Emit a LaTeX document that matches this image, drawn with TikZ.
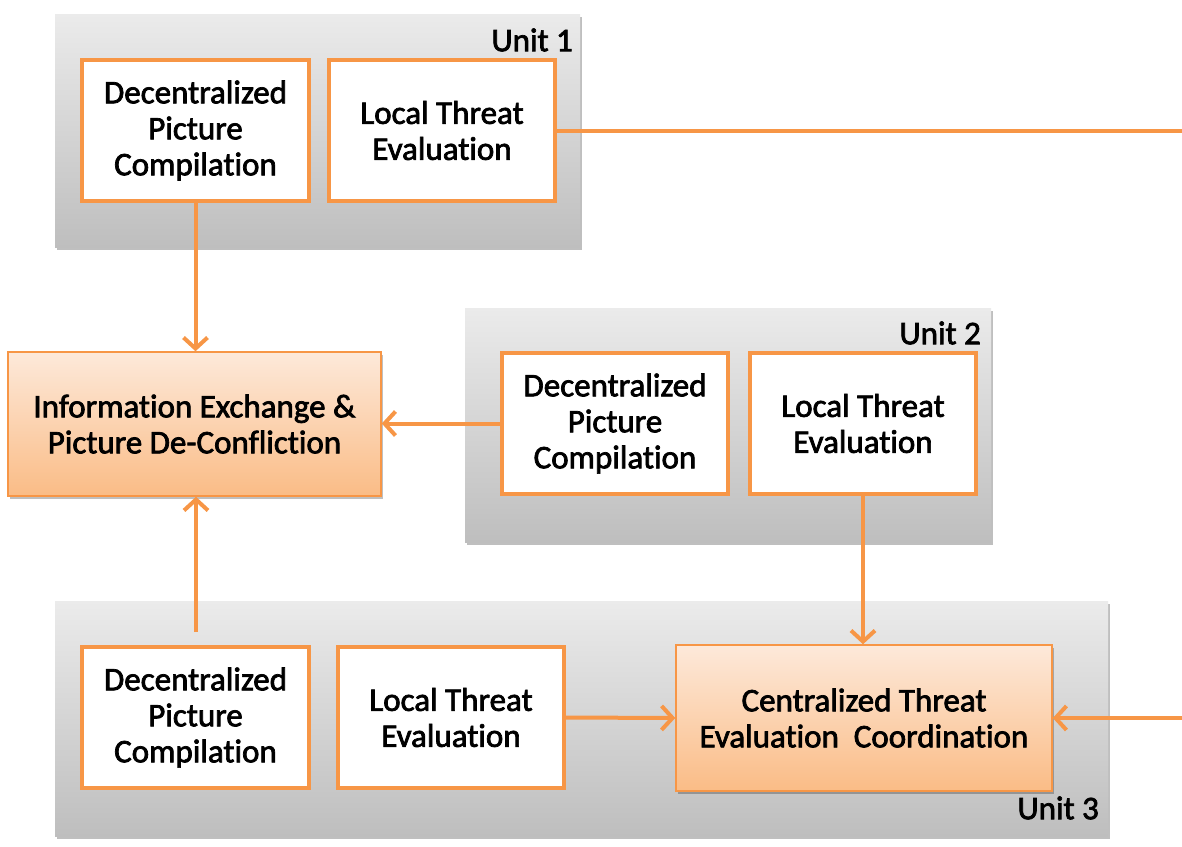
\documentclass[tikz,border=0pt]{standalone}
\usepackage{fontspec}
\setmainfont{Carlito}[Ligatures=NoCommon]
\newfontfamily\lblfont{Carlito}[Ligatures=NoCommon, FakeBold=2.2]
\usetikzlibrary{arrows.meta,shadows,calc}
\definecolor{accent}{HTML}{F79646}
\definecolor{unittop}{HTML}{EBEBEB}
\definecolor{unitbot}{HTML}{BEBEBE}
\definecolor{hubtop}{HTML}{FDE9DA}
\definecolor{hubbot}{HTML}{FABC86}
\tikzset{
  lbl/.style={font=\lblfont\fontsize{33}{36}\selectfont},
  unitbox/.style={rectangle, inner sep=0pt, top color=unittop, bottom color=unitbot,
    drop shadow={shadow xshift=2pt, shadow yshift=-3pt, fill=black, opacity=0.25}},
  taskbox/.style={rectangle, inner sep=0pt, draw=accent, line width=4pt, fill=white,
    align=center, lbl},
  hubbox/.style={rectangle, inner sep=0pt, draw=accent, line width=1.5pt,
    top color=hubtop, bottom color=hubbot, align=center, lbl,
    drop shadow={shadow xshift=2pt, shadow yshift=-3pt, fill=black, opacity=0.25}},
  unitlabel/.style={inner sep=0pt, anchor=east, lbl},
  link/.style={draw=accent, line width=4pt},
  flow/.style={link, -{Straight Barb[length=11pt,width=24pt,line width=4pt]}}
}
\begin{document}
\begin{tikzpicture}[x=1pt,y=-1pt]
\useasboundingbox (0,0) rectangle (1182,846);
\clip (0,0) rectangle (1182,846);
% unit panels
\node[unitbox, minimum width=525pt, minimum height=233pt] (u1) at (317.5,130.5) {};
\node[unitbox, minimum width=526pt, minimum height=234pt] (u2) at (728,425) {};
\node[unitbox, minimum width=1053pt, minimum height=235pt] (u3) at (581.5,718.5) {};
\node[unitlabel] (l1) at (573,40) {Unit 1};
\node[unitlabel] (l2) at (981,333) {Unit 2};
\node[unitlabel] (l3) at (1099,808) {Unit 3};
% unit 1
\node[taskbox, minimum width=227pt, minimum height=141pt] (dpc1) at (195.5,130.5) {Decentralized\\Picture\\Compilation};
\node[taskbox, minimum width=226pt, minimum height=141pt] (lte1) at (442,130.5) {Local Threat\\Evaluation};
% unit 2
\node[taskbox, minimum width=226pt, minimum height=141pt] (dpc2) at (615,423.5) {Decentralized\\Picture\\Compilation};
\node[taskbox, minimum width=226pt, minimum height=141pt] (lte2) at (863,423.5) {Local Threat\\Evaluation};
% unit 3
\node[taskbox, minimum width=227pt, minimum height=141pt] (dpc3) at (195.5,717.5) {Decentralized\\Picture\\Compilation};
\node[taskbox, minimum width=226pt, minimum height=141pt] (lte3) at (451,717.5) {Local Threat\\Evaluation};
% shared functions
\node[hubbox, minimum width=373pt, minimum height=144pt] (ie) at (194.5,424) {Information Exchange \&\\Picture De-Confliction};
\node[hubbox, minimum width=376pt, minimum height=146pt] (ctec) at (864,718) {Centralized Threat\\Evaluation\ \ Coordination};
% connectors
\coordinate (rail) at (1188,400);
\coordinate (up3) at (196,632);
\draw[flow] (lte1.east) -- (lte1.east -| rail) -- (rail |- ctec.east) -- (ctec.east);
\draw[flow] (dpc1.south) -- (dpc1.south |- ie.north);
\draw[flow] (dpc2.west) -- (dpc2.west -| ie.east);
\draw[flow] (lte2.south) -- (lte2.south |- ctec.north);
\draw[flow] (lte3.east) -- (ctec.west);
\draw[flow] (up3) -- (up3 |- ie.south);
\end{tikzpicture}
\end{document}
